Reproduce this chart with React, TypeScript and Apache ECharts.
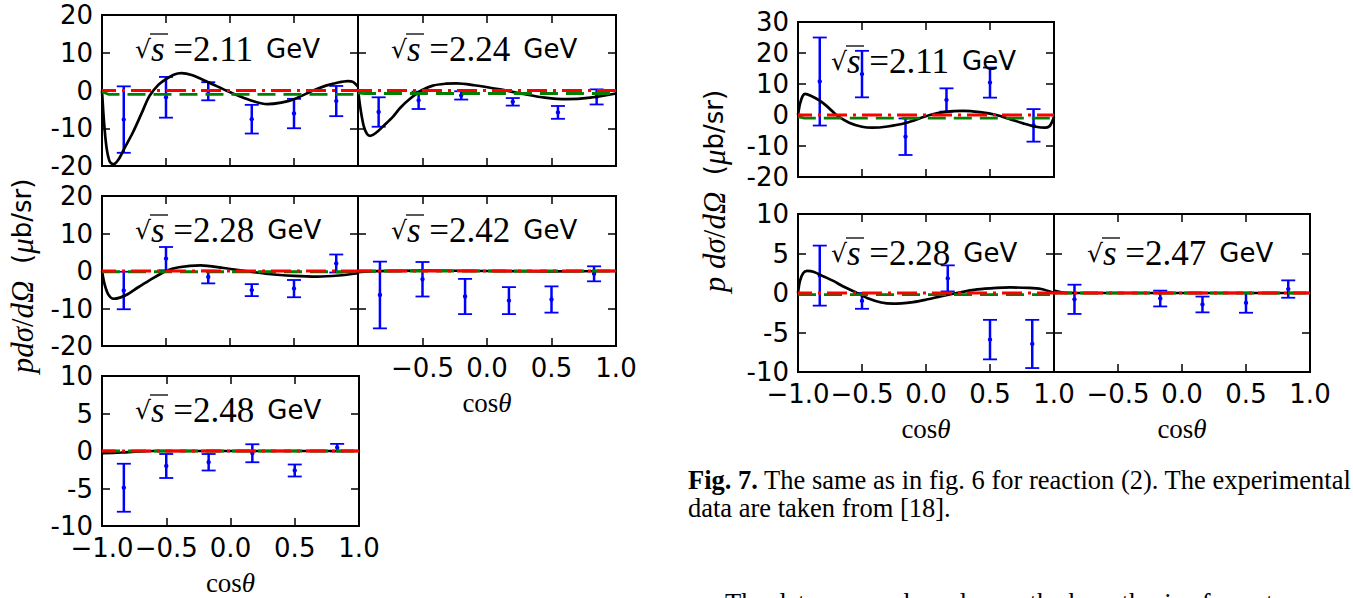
import React, { useEffect, useRef } from "react";
import * as echarts from "echarts";

// ---------- data ----------
const cosStd = [-0.83, -0.5, -0.17, 0.17, 0.5, 0.83];
const xTicks = [-1, -0.5, 0, 0.5, 1];

// Fig. 6 (left), sqrt(s)=2.11
const l211X = cosStd;
const l211Val = [-7.7, -1.8, -0.2, -7.6, -6.1, -2.8];
const l211Err = [8.8, 5.4, 2.4, 3.8, 3.9, 4.0];
const l211Curve = [[-1, 0], [-0.985, -8], [-0.965, -15], [-0.94, -18.8], [-0.91, -19.5], [-0.87, -18.2], [-0.82, -15], [-0.76, -11.2], [-0.69, -6], [-0.63, -1.5], [-0.56, 1.5], [-0.5, 3.0], [-0.44, 4.2], [-0.38, 4.6], [-0.3, 4.1], [-0.17, 2.2], [-0.03, 0], [0.08, -1.6], [0.17, -2.7], [0.29, -3.6], [0.4, -3.2], [0.5, -2.3], [0.65, 0], [0.75, 1.3], [0.83, 2.0], [0.92, 2.5], [0.96, 2.3], [1.0, 1.0]];
const l211Green = [[-1, -0.3], [-0.95, -1.0], [1, -1.0]];

// sqrt(s)=2.24
const l224X = [-0.84, -0.53, -0.2, 0.2, 0.55, 0.85];
const l224Val = [-5.7, -2.6, -1.3, -3.0, -5.8, -1.7];
const l224Err = [3.9, 2.3, 1.1, 1.0, 1.7, 2.0];
const l224Curve = [[-1, 0.3], [-0.98, -5], [-0.955, -9.5], [-0.93, -11.5], [-0.905, -12], [-0.86, -11.2], [-0.8, -9.3], [-0.73, -7], [-0.67, -4.5], [-0.59, -2.0], [-0.51, 0], [-0.42, 1.3], [-0.32, 1.8], [-0.235, 1.9], [-0.1, 1.4], [0.1, 0.3], [0.28, -0.9], [0.45, -1.9], [0.62, -2.3], [0.8, -1.9], [1.0, -0.8]];
const l224Green = [[-1, -0.6], [-0.95, -0.8], [1, -0.8]];

// sqrt(s)=2.28
const l228X = cosStd;
const l228Val = [-5.2, 3.3, -1.6, -5.1, -4.7, 2.0];
const l228Err = [5.0, 3.1, 1.7, 1.6, 2.3, 2.4];
const l228Curve = [[-1, 0], [-0.98, -3.5], [-0.95, -6.3], [-0.91, -7.4], [-0.86, -7.1], [-0.8, -6.2], [-0.72, -4.4], [-0.63, -2.5], [-0.5, 0], [-0.4, 1.0], [-0.23, 1.5], [-0.05, 0.8], [0.12, 0], [0.3, -0.8], [0.5, -1.3], [0.68, -1.5], [0.85, -1.2], [1.0, -0.6]];
const l228Green = [[-1, -0.2], [1, -0.2]];

// sqrt(s)=2.42
const l242X = cosStd;
const l242Val = [-6.4, -2.2, -6.8, -7.9, -7.6, -0.75];
const l242Err = [8.9, 4.6, 4.7, 3.6, 3.5, 2.0];
const l242Curve = [[-1, -0.3], [-0.85, -0.05], [-0.5, 0.1], [0, 0], [0.5, -0.1], [1, 0]];
const l242Green = [[-1, 0], [1, 0]];

// sqrt(s)=2.48
const l248X = cosStd;
const l248Val = [-4.9, -2.0, -1.5, -0.3, -2.6, 0.45];
const l248Err = [3.2, 1.6, 1.1, 1.2, 0.8, 0.5];
const l248Curve = [[-1, -0.3], [-0.85, -0.2], [-0.6, 0], [1, 0]];
const l248Green = [[-1, 0], [1, 0]];

// Fig. 7 (right), sqrt(s)=2.11
const r211X = [-0.83, -0.5, -0.16, 0.16, 0.5, 0.84];
const r211Val = [10.8, 13.2, -7.0, 4.85, 10.45, -3.35];
const r211Err = [14.2, 7.5, 5.9, 3.75, 4.85, 5.25];
const r211Curve = [[-1, 0], [-0.985, 3.5], [-0.965, 6.0], [-0.945, 6.8], [-0.9, 6.2], [-0.83, 4.6], [-0.76, 2.3], [-0.7, 0], [-0.6, -2.5], [-0.5, -3.8], [-0.42, -4.1], [-0.3, -3.7], [-0.16, -2.6], [0.03, 0], [0.15, 1.0], [0.29, 1.3], [0.42, 0.9], [0.55, 0], [0.66, -1.4], [0.76, -2.7], [0.86, -3.8], [0.93, -4.1], [0.965, -3.6], [0.985, -2.2], [1.0, -0.5]];
const r211Green = [[-1, -0.5], [-0.95, -1.0], [1, -1.0]];

// sqrt(s)=2.28
const r228X = [-0.83, -0.5, 0.17, 0.5, 0.83];
const r228Val = [2.2, -1.0, 1.85, -5.9, -6.45];
const r228Err = [3.8, 1.0, 1.65, 2.5, 3.05];
const r228Curve = [[-1, 0], [-0.985, 1.5], [-0.96, 2.5], [-0.93, 2.8], [-0.88, 2.7], [-0.8, 2.1], [-0.72, 1.5], [-0.65, 0.85], [-0.54, 0], [-0.45, -0.7], [-0.35, -1.2], [-0.26, -1.35], [-0.1, -1.15], [0.0, -0.85], [0.12, -0.4], [0.24, 0], [0.4, 0.45], [0.55, 0.65], [0.66, 0.7], [0.8, 0.65], [0.9, 0.5], [1.0, 0.0]];
const r228Green = [[-1, -0.2], [1, -0.2]];

// sqrt(s)=2.47
const r247X = [-0.84, -0.17, 0.16, 0.5, 0.83];
const r247Val = [-0.8, -0.7, -1.45, -1.25, 0.5];
const r247Err = [1.85, 1.0, 1.0, 1.25, 1.1];
const r247Curve = [[-1, 0.3], [-0.93, 0.05], [-0.8, 0], [1, 0]];
const r247Green = [[-1, 0], [1, 0]];

const redLine = [[-1, 0], [1, 0]];

// ---------- layout ----------
type Panel = {
  box: number[]; // left, top, width, height
  y: number[]; // min, max, interval
  xLabels: boolean;
  hideFirstX: boolean;
  yLabels: boolean;
  energy: string;
  xs: number[];
  vals: number[];
  errs: number[];
  curve: number[][];
  green: number[][];
};

const panels: Panel[] = [
  { box: [102, 15, 256, 151], y: [-20, 20, 10], xLabels: false, hideFirstX: false, yLabels: true, energy: "2.11", xs: l211X, vals: l211Val, errs: l211Err, curve: l211Curve, green: l211Green },
  { box: [358, 15, 258, 151], y: [-20, 20, 10], xLabels: false, hideFirstX: true, yLabels: false, energy: "2.24", xs: l224X, vals: l224Val, errs: l224Err, curve: l224Curve, green: l224Green },
  { box: [102, 196, 256, 150], y: [-20, 20, 10], xLabels: false, hideFirstX: false, yLabels: true, energy: "2.28", xs: l228X, vals: l228Val, errs: l228Err, curve: l228Curve, green: l228Green },
  { box: [358, 196, 258, 150], y: [-20, 20, 10], xLabels: true, hideFirstX: true, yLabels: false, energy: "2.42", xs: l242X, vals: l242Val, errs: l242Err, curve: l242Curve, green: l242Green },
  { box: [102, 376, 257, 150], y: [-10, 10, 5], xLabels: true, hideFirstX: false, yLabels: true, energy: "2.48", xs: l248X, vals: l248Val, errs: l248Err, curve: l248Curve, green: l248Green },
  { box: [798, 22, 256, 155], y: [-20, 30, 10], xLabels: false, hideFirstX: false, yLabels: true, energy: "2.11", xs: r211X, vals: r211Val, errs: r211Err, curve: r211Curve, green: r211Green },
  { box: [798, 214, 256, 158], y: [-10, 10, 5], xLabels: true, hideFirstX: false, yLabels: true, energy: "2.28", xs: r228X, vals: r228Val, errs: r228Err, curve: r228Curve, green: r228Green },
  { box: [1054, 214, 256, 158], y: [-10, 10, 5], xLabels: true, hideFirstX: true, yLabels: false, energy: "2.47", xs: r247X, vals: r247Val, errs: r247Err, curve: r247Curve, green: r247Green },
];

const SANS = "DejaVu Sans";
const SERIF = "Liberation Serif";
const BLUE = "#0000ff";
const TICK_FONT = 26;

function fmtX(v: number) {
  const s = Math.abs(v).toFixed(1);
  return v < 0 ? "\u2212" + s : s;
}

function buildOption() {
  const grid: any[] = [];
  const xAxis: any[] = [];
  const yAxis: any[] = [];
  const series: any[] = [];
  const graphic: any[] = [];
  const tickStyle = { color: "#000", width: 1.5 };
  const noLine = { show: false, onZero: false };

  panels.forEach((p, i) => {
    const [left, top, width, height] = p.box;
    grid.push({ left, top, width, height, show: true, borderColor: "#000", borderWidth: 2, backgroundColor: "transparent" });
    const baseX = { type: "value", gridIndex: i, min: -1, max: 1, interval: 0.5, splitLine: { show: false }, axisLine: noLine };
    xAxis.push({
      ...baseX,
      position: "bottom",
      axisTick: { show: true, inside: true, length: 8, lineStyle: tickStyle },
      axisLabel: {
        show: p.xLabels,
        margin: 9,
        fontSize: TICK_FONT,
        fontFamily: SANS,
        color: "#000",
        showMinLabel: true,
        showMaxLabel: true,
        formatter: (v: number) => (p.hideFirstX && v === xTicks[0] ? "" : fmtX(v)),
      },
    });
    xAxis.push({ ...baseX, position: "top", axisTick: { show: true, inside: true, length: 8, lineStyle: tickStyle }, axisLabel: { show: false } });
    const baseY = { type: "value", gridIndex: i, min: p.y[0], max: p.y[1], interval: p.y[2], splitLine: { show: false }, axisLine: noLine };
    yAxis.push({
      ...baseY,
      position: "left",
      axisTick: { show: true, inside: true, length: 8, lineStyle: tickStyle },
      axisLabel: { show: p.yLabels, margin: 9, fontSize: TICK_FONT, fontFamily: SANS, color: "#000", showMinLabel: true, showMaxLabel: true, formatter: (v: number) => String(v) },
    });
    yAxis.push({ ...baseY, position: "right", axisTick: { show: true, inside: true, length: 8, lineStyle: tickStyle }, axisLabel: { show: false } });

    const xi = 2 * i;
    const yi = 2 * i;
    // error bars
    series.push({
      type: "custom",
      xAxisIndex: xi,
      yAxisIndex: yi,
      clip: true,
      z: 2,
      data: p.xs.map((x, k) => [x, p.vals[k], p.errs[k]]),
      renderItem: (params: any, api: any) => {
        const x = api.value(0);
        const v = api.value(1);
        const e = api.value(2);
        const t = api.coord([x, v + e]);
        const b = api.coord([x, v - e]);
        const c = api.coord([x, v]);
        const hw = 7;
        return {
          type: "group",
          children: [
            { type: "line", shape: { x1: t[0], y1: t[1], x2: b[0], y2: b[1] }, style: { stroke: BLUE, lineWidth: 2.5 } },
            { type: "line", shape: { x1: t[0] - hw, y1: t[1], x2: t[0] + hw, y2: t[1] }, style: { stroke: BLUE, lineWidth: 1.8 } },
            { type: "line", shape: { x1: b[0] - hw, y1: b[1], x2: b[0] + hw, y2: b[1] }, style: { stroke: BLUE, lineWidth: 1.8 } },
            { type: "circle", shape: { cx: c[0], cy: c[1], r: 2.2 }, style: { fill: BLUE } },
          ],
        };
      },
    });
    // model curves
    series.push({ type: "line", xAxisIndex: xi, yAxisIndex: yi, data: p.curve, smooth: 0.3, showSymbol: false, clip: true, z: 3, lineStyle: { color: "#000", width: 2.7 } });
    series.push({ type: "line", xAxisIndex: xi, yAxisIndex: yi, data: p.green, showSymbol: false, clip: true, z: 4, lineStyle: { color: "#007f00", width: 2.8, type: [18, 8] } });
    series.push({ type: "line", xAxisIndex: xi, yAxisIndex: yi, data: redLine, showSymbol: false, clip: true, z: 5, lineStyle: { color: "#ff0000", width: 2.8, type: [20, 6, 3, 6], dashOffset: 6 } });

    // energy annotation
    const ax = left + 33;
    const ay = top + (i >= 5 ? 39 : 34);
    graphic.push({
      type: "text",
      x: ax,
      y: ay,
      z: 10,
      style: {
        text: "{r|\u221A}{s|s}{n| =" + p.energy + "}{g|GeV}",
        align: "left",
        verticalAlign: "middle",
        rich: {
          r: { fontFamily: "DejaVu Serif", fontSize: 25, fill: "#000" },
          s: { fontFamily: SERIF, fontStyle: "italic", fontSize: 35, fill: "#000" },
          n: { fontFamily: SERIF, fontSize: 35, fill: "#000" },
          g: { fontFamily: SANS, fontSize: 26, fill: "#000", padding: [0, 0, 0, 13] },
        },
      },
    });
    graphic.push({ type: "line", z: 10, shape: { x1: ax + 15, y1: ay - 15, x2: ax + 33, y2: ay - 15 }, style: { stroke: "#000", lineWidth: 1.3 } });

    if (p.xLabels) {
      graphic.push({
        type: "text",
        x: left + width / 2,
        y: top + height + 57,
        style: {
          text: "{c|cos}{t|\u03B8}",
          align: "center",
          verticalAlign: "middle",
          rich: { c: { fontFamily: SERIF, fontSize: 27, fill: "#000" }, t: { fontFamily: SERIF, fontStyle: "italic", fontSize: 27, fill: "#000" } },
        },
      });
    }
  });

  const ylabRich = {
    m: { fontFamily: SERIF, fontStyle: "italic", fontSize: 31, fill: "#000" },
    u: { fontFamily: SERIF, fontSize: 31, fill: "#000" },
    t: { fontFamily: SANS, fontSize: 26, fill: "#000" },
  };
  graphic.push({
    type: "text",
    x: 22,
    y: 276,
    rotation: Math.PI / 2,
    style: { text: "{m|pd\u03C3}{u|/}{m|d\u03A9}{t|  (}{m|\u03BC}{t|b/sr)}", align: "center", verticalAlign: "middle", rich: ylabRich },
  });
  graphic.push({
    type: "text",
    x: 714,
    y: 191,
    rotation: Math.PI / 2,
    style: { text: "{m|p d\u03C3}{u|/}{m|d\u03A9}{t|  (}{m|\u03BC}{t|b/sr)}", align: "center", verticalAlign: "middle", rich: ylabRich },
  });

  // caption
  const CAP = 26.5;
  graphic.push({
    type: "text",
    x: 688,
    y: 480,
    style: {
      text: "{b|Fig. 7.}{n| The same as in fig. 6 for reaction (2). The experimental}",
      align: "left",
      verticalAlign: "middle",
      rich: { b: { fontFamily: SERIF, fontWeight: "bold", fontSize: CAP, fill: "#000" }, n: { fontFamily: SERIF, fontSize: CAP, fill: "#000" } },
    },
  });
  graphic.push({ type: "text", x: 688, y: 508, style: { text: "data are taken from [18].", align: "left", verticalAlign: "middle", fontFamily: SERIF, fontSize: CAP, fill: "#000" } });
  graphic.push({ type: "text", x: 725, y: 603, style: { text: "The data are crude and even the hypothesis of exact", align: "left", verticalAlign: "middle", fontFamily: SERIF, fontSize: CAP, fill: "#000" } });

  return { animation: false, backgroundColor: "#fff", grid, xAxis, yAxis, series, graphic };
}

export default function App() {
  const ref = useRef<HTMLDivElement>(null);
  useEffect(() => {
    if (!ref.current) return;
    const chart = echarts.init(ref.current, undefined, { renderer: "svg" });
    chart.setOption(buildOption() as any);
    return () => chart.dispose();
  }, []);
  return <div ref={ref} style={{ position: "fixed", left: 0, top: 0, width: 1353, height: 598, background: "#fff" }} />;
}
